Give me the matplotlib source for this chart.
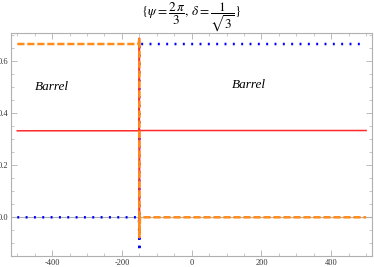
import matplotlib
matplotlib.use("Agg")
import matplotlib.pyplot as plt
from matplotlib.ticker import MultipleLocator, FormatStrFormatter

plt.rcParams['lines.scale_dashes'] = False
plt.rcParams['mathtext.fontset'] = 'stix'

# Data
red_x = [-500, -150.5, -150, -150, -149.5, 500]
red_y = [0.333, 0.333, 0.69, -0.077, 0.334, 0.334]

blue_x = [-500, -151, -150, -150, -149, 500]
blue_y = [0.0, 0.0, -0.13, 0.672, 0.667, 0.667]

orange_x = [-500, -152, -150, -150, -148, 500]
orange_y = [0.667, 0.667, 0.69, -0.077, 0.0, 0.0]

labels = [(-402, 0.50, "Barrel"), (164, 0.508, "Barrel")]

fig = plt.figure(figsize=(3.74, 2.67), dpi=100)
ax = fig.add_axes([0.0294, 0.0412, 0.9653, 0.8338])

ax.axhline(0, color='#b0b0b0', lw=0.8, zorder=1)
ax.plot(blue_x, blue_y, color='#0000ff', lw=1.8, linestyle=(0, (1.4, 4.6)), zorder=2)
ax.plot(red_x, red_y, color='#ff2a2a', lw=1.1, zorder=3)
ax.plot(orange_x, orange_y, color='#ff8c1a', lw=1.8, linestyle=(0, (5.2, 2.0)), zorder=4)

for x, y, t in labels:
    ax.text(x, y, t, fontsize=9.5, fontstyle='italic', family='Liberation Serif',
            ha='center', va='center')

ax.set_xlim(-518, 517)
ax.set_ylim(-0.149, 0.708)
ax.xaxis.set_major_locator(MultipleLocator(200))
ax.xaxis.set_minor_locator(MultipleLocator(50))
ax.yaxis.set_major_locator(MultipleLocator(0.2))
ax.yaxis.set_minor_locator(MultipleLocator(0.05))
ax.yaxis.set_major_formatter(FormatStrFormatter('%.1f'))
ax.xaxis.set_major_formatter(FormatStrFormatter('%d'))
ax.tick_params(which='both', direction='in', top=True, right=True, color='#b0b0b0',
               labelsize=6, pad=2, labelcolor='#333333')
ax.tick_params(which='major', length=4, width=0.6)
ax.tick_params(which='minor', length=2, width=0.5)
for lab in ax.get_xticklabels() + ax.get_yticklabels():
    lab.set_family('Liberation Serif')
for s in ax.spines.values():
    s.set_color('#b0b0b0')
    s.set_linewidth(0.8)

fig.text(0.512, 0.935, r'$\{\psi = \dfrac{2\,\pi}{3},\, \delta = \dfrac{1}{\sqrt{3}}\}$',
         ha='center', va='center', fontsize=9.5)

fig.savefig('out.png', dpi=100)
